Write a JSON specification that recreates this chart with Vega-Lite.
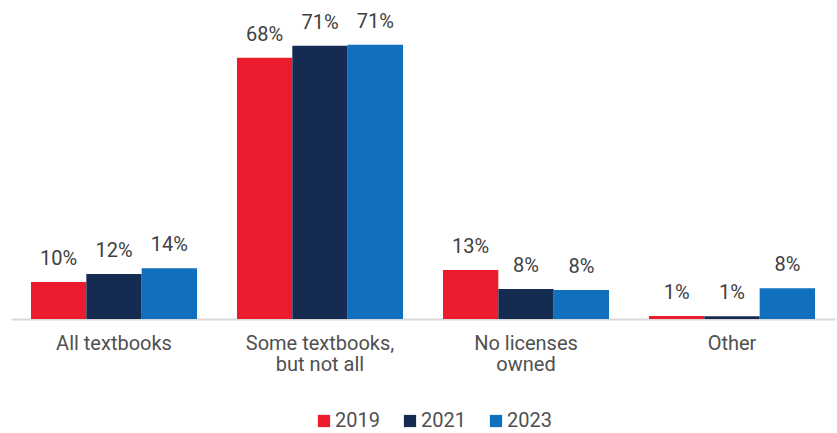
{
  "$schema": "https://vega.github.io/schema/vega-lite/v6.json",
  "width": 824,
  "height": 289,
  "autosize": {"type": "none"},
  "padding": {"left": 11, "top": 30, "right": 2, "bottom": 114},
  "config": {
    "view": {"stroke": null},
    "font": "Roboto, Liberation Sans"
  },
  "data": {
    "values": [
      {"category": "All textbooks", "year": "2019", "value": 9.6, "label": "10%"},
      {"category": "All textbooks", "year": "2021", "value": 11.7, "label": "12%"},
      {"category": "All textbooks", "year": "2023", "value": 13.2, "label": "14%"},
      {"category": "Some textbooks, but not all", "year": "2019", "value": 67.8, "label": "68%"},
      {"category": "Some textbooks, but not all", "year": "2021", "value": 70.9, "label": "71%"},
      {"category": "Some textbooks, but not all", "year": "2023", "value": 71.2, "label": "71%"},
      {"category": "No licenses owned", "year": "2019", "value": 12.7, "label": "13%"},
      {"category": "No licenses owned", "year": "2021", "value": 7.8, "label": "8%"},
      {"category": "No licenses owned", "year": "2023", "value": 7.5, "label": "8%"},
      {"category": "Other", "year": "2019", "value": 0.8, "label": "1%"},
      {"category": "Other", "year": "2021", "value": 0.7, "label": "1%"},
      {"category": "Other", "year": "2023", "value": 8.0, "label": "8%"}
    ]
  },
  "encoding": {
    "x": {
      "field": "category",
      "type": "nominal",
      "sort": null,
      "scale": {"paddingInner": 0.194, "paddingOuter": 0.097},
      "axis": {
        "title": null,
        "labelAngle": 0,
        "ticks": false,
        "domainColor": "#d9d9d9",
        "domainWidth": 2,
        "labelColor": "#505050",
        "labelFontSize": 20,
        "labelPadding": 14,
        "labelLineHeight": 21,
        "labelLimit": 200,
        "labelExpr": "datum.value == 'Some textbooks, but not all' ? ['Some textbooks,', 'but not all'] : datum.value == 'No licenses owned' ? ['No licenses', 'owned'] : datum.value"
      }
    },
    "xOffset": {"field": "year", "type": "nominal", "scale": {"paddingInner": 0, "paddingOuter": 0}},
    "y": {
      "field": "value",
      "type": "quantitative",
      "scale": {"domain": [0, 75]},
      "axis": null
    }
  },
  "layer": [
    {
      "mark": {"type": "bar"},
      "encoding": {
        "color": {
          "field": "year",
          "type": "nominal",
          "scale": {"domain": ["2019", "2021", "2023"], "range": ["#EC1C2E", "#152B52", "#1170BD"]},
          "legend": {
            "title": null,
            "orient": "none",
            "direction": "horizontal",
            "legendX": 303,
            "legendY": 381,
            "symbolType": "square",
            "symbolSize": 150,
            "symbolOpacity": 1,
            "labelFontSize": 20,
            "labelColor": "#505050",
            "columnPadding": 20,
            "labelOffset": 1
          }
        }
      }
    },
    {
      "mark": {"type": "text", "baseline": "bottom", "dy": -13, "fontSize": 20, "color": "#404040"},
      "encoding": {"text": {"field": "label"}}
    }
  ]
}
